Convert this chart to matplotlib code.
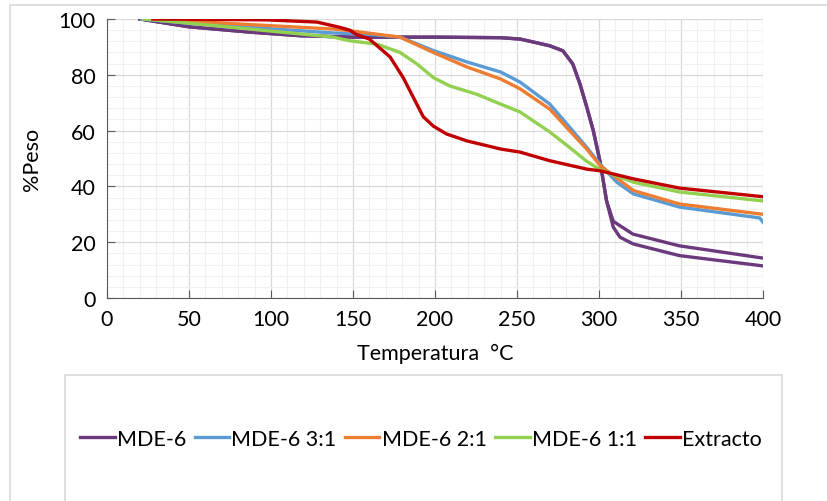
import matplotlib.pyplot as plt
from matplotlib.patches import Rectangle
from matplotlib.ticker import MultipleLocator

plt.rcParams['font.family'] = ['Lato', 'DejaVu Sans']

# ---- data (temperature degC, % weight) ----
mde6_t = [20, 50, 87, 118, 150, 200, 240, 252, 270, 278, 284, 288.4, 292.5, 296.5,
          300.6, 302.6, 304.6, 308.7, 312.8, 320.7, 349, 400]
mde6_a = [100, 97.2, 95.3, 94, 93.5, 93.5, 93.3, 92.8, 90.4, 88.6, 83.9, 76.7, 68.5, 60,
          49, 42, 34.8, 27.5, 25.9, 22.9, 18.7, 14.3]
mde6_b = [100, 97.2, 95.3, 94, 93.5, 93.5, 93.3, 92.8, 90.4, 88.6, 83.9, 76.7, 68.5, 60,
          49, 42, 34.8, 25.4, 21.8, 19.4, 15.2, 11.5]

m31_t = [21, 50, 87, 138, 160, 178.7, 199, 219.5, 240, 251.8, 270, 282, 292.5, 300.6,
         310.8, 321, 349, 398, 400]
m31_y = [100, 98.5, 97, 95, 94.5, 93.5, 88.7, 84.6, 81, 77.4, 69.5, 61.3, 54, 48,
         41.5, 37.3, 32.6, 28.7, 27.2]

m21_t = [24, 50, 87, 138, 148, 178.7, 199, 219.5, 240, 251.8, 270, 282, 292.5, 300.6,
         321, 349, 400]
m21_y = [100, 99.2, 98, 96.4, 95.8, 93.5, 88, 82.8, 78.5, 75, 67.7, 60, 53.4, 47.5,
         38.5, 33.7, 30]

m11_t = [22, 50, 87, 138, 148, 164.6, 178.7, 189, 199, 209, 225.6, 240, 251.8, 270,
         282, 292.5, 300.6, 321, 349, 400]
m11_y = [100, 98.5, 96.4, 93.5, 92.2, 91, 88, 83.9, 79, 76, 73, 69.5, 66.7, 59.5,
         54, 49, 46, 41.5, 38, 34.8]

ext_t = [28, 97, 128, 142, 148, 152, 160, 172.6, 180.6, 186.7, 192.8, 199, 207,
         219.5, 240, 251.8, 270, 292.5, 300.6, 321, 349, 400]
ext_y = [100, 99.7, 98.9, 97, 96, 94.5, 92.8, 86.4, 79, 72, 65, 61.6, 58.8,
         56.3, 53.4, 52.3, 49.2, 46.2, 45.6, 42.7, 39.4, 36.3]

fig = plt.figure(figsize=(8.27, 5.02), dpi=100)

# chart frame and legend box
fig.patches.append(Rectangle((10 / 827, -0.02), 1.0, 1 - 6 / 502 + 0.02,
                             transform=fig.transFigure, fill=False,
                             edgecolor='#d9d9d9', lw=1.2))
fig.patches.append(Rectangle((65 / 827, -0.02), (782 - 65) / 827, 1 - 376 / 502 + 0.02,
                             transform=fig.transFigure, fill=False,
                             edgecolor='#d9d9d9', lw=1.2))

ax = fig.add_axes([107 / 827, 1 - 299 / 502, (763 - 107) / 827, (299 - 20) / 502])

lw = 2.4
ax.plot(mde6_t, mde6_a, color='#6a3a7c', lw=lw, label='MDE-6')
ax.plot(mde6_t, mde6_b, color='#6a3a7c', lw=lw)
ax.plot(m31_t, m31_y, color='#5b9bd5', lw=lw, label='MDE-6 3:1')
ax.plot(m21_t, m21_y, color='#ed7d31', lw=lw, label='MDE-6 2:1')
ax.plot(m11_t, m11_y, color='#92d050', lw=lw, label='MDE-6 1:1')
ax.plot(ext_t, ext_y, color='#c00000', lw=lw, label='Extracto')

ax.set_xlim(0, 400)
ax.set_ylim(0, 100)
ax.xaxis.set_major_locator(MultipleLocator(50))
ax.xaxis.set_minor_locator(MultipleLocator(10))
ax.yaxis.set_major_locator(MultipleLocator(20))
ax.yaxis.set_minor_locator(MultipleLocator(4))
ax.grid(which='major', color='#d9d9d9', lw=0.9)
ax.grid(which='minor', color='#f0f0f0', lw=0.8)
ax.set_axisbelow(True)

for s in ['top', 'right']:
    ax.spines[s].set_visible(False)
for s in ['left', 'bottom']:
    ax.spines[s].set_color('#595959')
ax.tick_params(which='major', direction='in', length=6, color='#595959',
               labelsize=15.5, pad=8)
ax.tick_params(which='minor', length=0)

ax.set_xlabel('Temperatura  °C', fontsize=15.5, labelpad=10)
ax.set_ylabel('%Peso', fontsize=15.5, labelpad=12)

fig.legend(loc='center', bbox_to_anchor=(0.509, 1 - 440 / 502), ncol=5,
           frameon=False, fontsize=15.5, handlelength=1.6, handletextpad=0.1,
           columnspacing=0.4, borderaxespad=0)

plt.savefig('out.png', dpi=100)
